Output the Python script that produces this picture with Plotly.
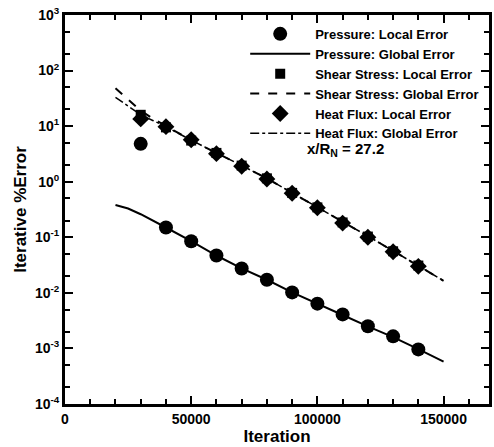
import plotly.graph_objects as go

# ---- data ----
local_iter = [30000, 40000, 50000, 60000, 70000, 80000, 90000, 100000, 110000, 120000, 130000, 140000]
pressure_local = [4.8, 0.15, 0.085, 0.047, 0.0275, 0.0172, 0.0102, 0.0064, 0.0041, 0.0025, 0.00165, 0.00096]
shear_local = [16.0, 9.5, 5.5, 3.3, 1.95, 1.15, 0.63, 0.345, 0.185, 0.103, 0.056, 0.031]
heat_local = [13.5, 9.8, 5.7, 3.2, 1.9, 1.12, 0.62, 0.34, 0.18, 0.10, 0.055, 0.030]

global_iter = [20000, 25000, 30000, 35000, 40000, 50000, 60000, 70000, 80000, 90000,
               100000, 110000, 120000, 130000, 140000, 150000]
pressure_global = [0.38, 0.33, 0.26, 0.2, 0.15, 0.085, 0.047, 0.0275, 0.0172, 0.0102,
                   0.0063, 0.004, 0.0025, 0.0016, 0.00097, 0.00058]
shear_global = [48, 30, 19, 13.5, 10, 5.6, 3.3, 1.95, 1.15, 0.63,
                0.35, 0.19, 0.105, 0.057, 0.031, 0.0165]
heat_global = [33, 23, 16, 12.5, 9.8, 5.6, 3.3, 1.95, 1.15, 0.63,
               0.35, 0.19, 0.105, 0.057, 0.031, 0.0165]

y_tickvals = [1e-4, 1e-3, 1e-2, 1e-1, 1e0, 1e1, 1e2, 1e3]
y_ticktext = ["10<sup>-4</sup>", "10<sup>-3</sup>", "10<sup>-2</sup>", "10<sup>-1</sup>",
              "10<sup>0</sup>", "10<sup>1</sup>", "10<sup>2</sup>", "10<sup>3</sup>"]
x_tickvals = [0, 50000, 100000, 150000]
x_ticktext = ["0", "50000", "100000", "150000"]

FONT = "Liberation Sans, Arial, sans-serif"

fig = go.Figure()
fig.add_trace(go.Scatter(x=local_iter, y=pressure_local, mode="markers",
                         name="Pressure: Local Error",
                         marker=dict(symbol="circle", size=14, color="black")))
fig.add_trace(go.Scatter(x=global_iter, y=pressure_global, mode="lines",
                         name="Pressure: Global Error",
                         line=dict(color="black", width=2, dash="solid")))
fig.add_trace(go.Scatter(x=local_iter, y=shear_local, mode="markers",
                         name="Shear Stress: Local Error",
                         marker=dict(symbol="square", size=10, color="black")))
fig.add_trace(go.Scatter(x=global_iter, y=shear_global, mode="lines",
                         name="Shear Stress: Global Error",
                         line=dict(color="black", width=2, dash="dash")))
fig.add_trace(go.Scatter(x=local_iter, y=heat_local, mode="markers",
                         name="Heat Flux: Local Error",
                         marker=dict(symbol="diamond", size=13, color="black")))
fig.add_trace(go.Scatter(x=global_iter, y=heat_global, mode="lines",
                         name="Heat Flux: Global Error",
                         line=dict(color="black", width=1.5, dash="dashdot")))

axis_common = dict(showline=True, linecolor="black", linewidth=3, mirror="ticks",
                   ticks="inside", tickcolor="black", tickwidth=2, ticklen=8,
                   showgrid=False, zeroline=False,
                   tickfont=dict(family=FONT, size=14, color="black", weight="bold"))

fig.update_xaxes(range=[0, 168000], tickvals=x_tickvals, ticktext=x_ticktext,
                 minor=dict(ticks="inside", dtick=10000, ticklen=5, tickwidth=2, tickcolor="black"),
                 title=dict(text="Iteration", standoff=2,
                            font=dict(family=FONT, size=17, color="black", weight="bold")),
                 **axis_common)
fig.update_yaxes(type="log", range=[-4, 3], tickvals=y_tickvals, ticktext=y_ticktext,
                 minor=dict(ticks="inside", ticklen=5, tickwidth=1.5, tickcolor="black"),
                 title=dict(text="Iterative %Error", standoff=4,
                            font=dict(family=FONT, size=17, color="black", weight="bold")),
                 **axis_common)

fig.add_annotation(x=0.565, y=0.653, xref="paper", yref="paper", xanchor="left", yanchor="middle",
                   text="x/R<sub>N</sub> = 27.2", showarrow=False,
                   font=dict(family=FONT, size=15, color="black", weight="bold"))

fig.update_layout(
    width=494, height=447,
    margin=dict(l=65, r=2, t=15, b=43),
    paper_bgcolor="white", plot_bgcolor="white",
    showlegend=True,
    legend=dict(x=0.425, y=0.99, xanchor="left", yanchor="top",
                bgcolor="rgba(0,0,0,0)", borderwidth=0,
                font=dict(family=FONT, size=13, color="black", weight="bold"),
                itemwidth=60, tracegroupgap=0),
)

fig.write_html("out.html")
